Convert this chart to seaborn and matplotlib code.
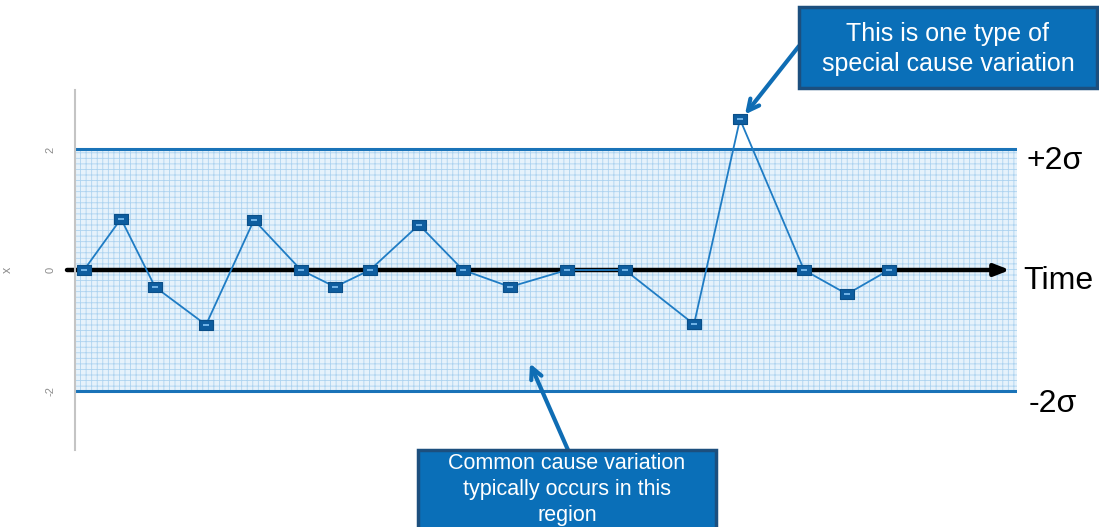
import numpy as np
import pandas as pd
import matplotlib
matplotlib.use("Agg")
import matplotlib.pyplot as plt
from matplotlib.path import Path
from matplotlib.patches import Rectangle
import seaborn as sns

# Run chart data: time index and measured deviation (in sigma units)
time_pts = [0.9, 4.6, 8.0, 13.1, 17.9, 22.6, 26.0, 29.5, 34.4, 38.8,
            43.5, 49.2, 55.0, 61.9, 66.5, 72.9, 77.2, 81.4]
values = [0.0, 0.85, -0.28, -0.91, 0.83, 0.0, -0.28, 0.0, 0.75, 0.0,
          -0.28, 0.0, 0.0, -0.90, 2.50, 0.0, -0.40, 0.0]
y_ticks = [-2, 0, 2]
y_tick_labels = ["-2", "0", "2"]
band_limits = [-2, 2]

df = pd.DataFrame({"t": time_pts, "x": values})

sns.set_style("white")
plt.rcParams["font.family"] = ["Liberation Sans", "DejaVu Sans"]
plt.rcParams["hatch.linewidth"] = 0.6

W, H = 1099, 527
fig = plt.figure(figsize=(W / 100, H / 100), dpi=100)
ax = fig.add_axes([75 / W, 1 - 450 / H, (1017 - 75) / W, 360 / H])
ax.set_xlim(0, 94.2)
ax.set_ylim(-2.985, 2.985)


def fx(px):
    return px / W


def fy(py):
    return 1 - py / H


# +/- 2 sigma band with a fine grid texture
ax.axhspan(band_limits[0], band_limits[1], facecolor="#e6f2fb",
           edgecolor="#add3f0", hatch="+++", linewidth=0, zorder=0)
for lim in band_limits:
    ax.axhline(lim, color="#1a73b8", lw=2.2, zorder=1)

# Time axis arrow through the mean
ax.annotate("", xy=(93.5, 0), xytext=(-0.8, 0), xycoords="data",
            arrowprops=dict(arrowstyle="-|>,head_length=0.9,head_width=0.35",
                            color="black", lw=3.2, shrinkA=0, shrinkB=0),
            annotation_clip=False, zorder=2)

# Rectangular point markers with a light inner dash
box_marker = Path([(-1.3, -1), (1.3, -1), (1.3, 1), (-1.3, 1), (-1.3, -1)],
                  [Path.MOVETO, Path.LINETO, Path.LINETO, Path.LINETO, Path.CLOSEPOLY])
dash_marker = Path([(-1.3, -0.5), (1.3, -0.5), (1.3, 0.5), (-1.3, 0.5), (-1.3, -0.5)],
                   [Path.MOVETO, Path.LINETO, Path.LINETO, Path.LINETO, Path.CLOSEPOLY])

sns.lineplot(data=df, x="t", y="x", ax=ax, color="#1f7cc4", lw=1.3,
             marker=box_marker, markersize=10, markerfacecolor="#0e5d9f",
             markeredgecolor="#0b4f88", markeredgewidth=0.8, zorder=3)
sns.scatterplot(data=df, x="t", y="x", ax=ax, marker=dash_marker, s=14,
                color="#6fb2e6", linewidth=0, zorder=4)

# Axis styling
for side in ["top", "right", "bottom"]:
    ax.spines[side].set_visible(False)
ax.spines["left"].set_color("#c4c4c4")
ax.spines["left"].set_linestyle((0, (1, 1)))
ax.spines["left"].set_linewidth(1.5)
ax.set_xticks([])
ax.set_yticks(y_ticks)
ax.set_yticklabels(y_tick_labels, rotation=90, va="center", color="#8c8c8c", fontsize=8)
ax.tick_params(axis="y", length=8, width=0.8, color="#aaaaaa", pad=6)
ax.set_xlabel("")
ax.set_ylabel("x", color="#8c8c8c", fontsize=9)
ax.yaxis.set_label_coords(-0.065, 0.5)

# Labels to the right of the chart
fig.text(fx(1026), fy(161), "+2\u03c3", fontsize=23, va="center", ha="left", color="black")
fig.text(fx(1023), fy(281), "Time", fontsize=23, va="center", ha="left", color="black")
fig.text(fx(1029), fy(404), "-2\u03c3", fontsize=23, va="center", ha="left", color="black")

# Callout boxes
box_face = "#0a6fb8"
box_edge = "#1c4f7e"
fig.patches.append(Rectangle((fx(799), fy(88)), (1097 - 799) / W, 81 / H,
                             transform=fig.transFigure, facecolor=box_face,
                             edgecolor=box_edge, lw=2.5, zorder=5))
fig.text(fx(948), fy(49), "This is one type of\nspecial cause variation",
         color="white", fontsize=18, ha="center", va="center",
         linespacing=1.3, zorder=6)

fig.patches.append(Rectangle((fx(418), fy(540)), (716 - 418) / W, 90 / H,
                             transform=fig.transFigure, facecolor=box_face,
                             edgecolor=box_edge, lw=2.5, zorder=5))
fig.text(fx(567), fy(453), "Common cause variation\ntypically occurs in this\nregion",
         color="white", fontsize=15.5, ha="center", va="top",
         linespacing=1.3, zorder=6)

# Callout arrows
arrow_kw = dict(arrowstyle="->,head_length=0.8,head_width=0.4",
                color="#0f6db4", lw=3, shrinkA=0, shrinkB=0)
ax.annotate("", xy=(time_pts[14] + 0.5, values[14] + 0.08),
            xytext=(fx(799), fy(46)), textcoords="figure fraction",
            arrowprops=arrow_kw, annotation_clip=False, zorder=7)
ax.annotate("", xy=(45.5, -1.55),
            xytext=(fx(568), fy(450)), textcoords="figure fraction",
            arrowprops=arrow_kw, annotation_clip=False, zorder=7)

fig.savefig("out.png", dpi=100)
